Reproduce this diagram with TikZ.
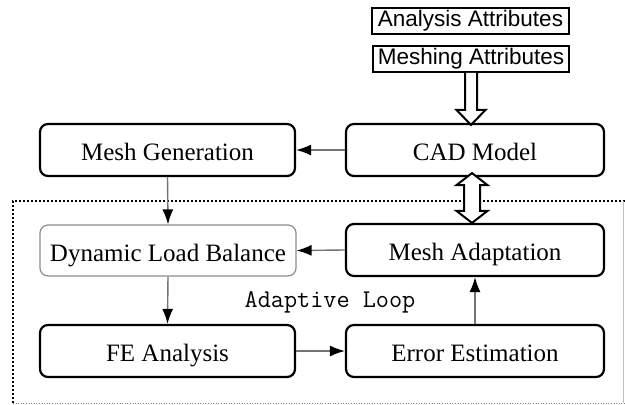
\documentclass[tikz,border=0pt]{standalone}
\usepackage{fontspec}
\setmainfont{Liberation Serif}
\newfontfamily\attrfont{Liberation Sans}
\usetikzlibrary{arrows.meta,calc}
\tikzset{
  box/.style={draw=black, line width=2.2pt, rounded corners=8pt, fill=white,
    minimum width=256pt, minimum height=52pt, inner sep=0pt,
    text height=21pt, text depth=0pt,
    font=\fontsize{25}{28}\selectfont},
  lightbox/.style={box, draw=black!45, line width=1.2pt},
  attr/.style={draw=black, line width=1.8pt, fill=white, inner sep=0pt,
    minimum height=26pt, font=\attrfont\fontsize{22.5}{25}\selectfont},
  conn/.style={draw=black!55, line width=1.4pt, -{Latex[black,length=15pt,width=11pt]}},
  hollow/.style={draw=black, line width=2pt, fill=white, line join=miter},
}
\begin{document}
\begin{tikzpicture}[x=1pt,y=-1pt]
\useasboundingbox (0,0) rectangle (625,405);
\fill[white] (0,0) rectangle (625,405);
% adaptive loop frame
\draw[line width=2pt, dotted, black] (625,201) -- (13,201) -- (13,403);
\draw[line width=0.6pt, dotted, black!50] (13,403) -- (625,403);
\draw[line width=0.6pt, black!25] (623.5,201) -- (623.5,403);

\node[box, minimum width=255pt] (mg) at (167.5,150) {Mesh Generation};
\node[box, minimum width=258pt] (cad) at (475,150) {CAD Model};
\node[lightbox, minimum height=51pt] (dlb) at (168,250.5) {Dynamic Load Balance};
\node[box, minimum width=258pt] (ma) at (475,250) {Mesh Adaptation};
\node[box, minimum width=255pt] (fe) at (167.5,351) {FE Analysis};
\node[box, minimum width=258pt] (ee) at (475,351) {Error Estimation};
\node[attr, minimum width=197pt] (aa) at (470.5,21) {Analysis Attributes};
\node[attr, minimum width=196pt] (mat) at (471,59) {Meshing Attributes};
\node[font=\ttfamily\fontsize{25.5}{28}\selectfont] (loop) at (330,302) {Adaptive Loop};

\draw[conn] (cad.west) -- (mg.east);
\draw[conn] (mg.south) -- (dlb.north);
\draw[conn] (ma.west) -- (dlb.east);
\draw[conn] (dlb.south) -- (fe.north);
\draw[conn] (fe.east) -- (ee.west);
\draw[conn] (ee.north) -- (ma.south);

% single hollow arrow: Meshing Attributes -> CAD Model
\coordinate (s1) at (mat.south);
\coordinate (t1) at (mat.south |- cad.north);
\draw[hollow] ($(s1)+(-6,0)$) -- ($(t1)+(-6,-13)$) -- ($(t1)+(-14.5,-13)$) -- ($(t1)+(0,2)$)
  -- ($(t1)+(14.5,-13)$) -- ($(t1)+(6,-13)$) -- ($(s1)+(6,0)$);

% double hollow arrow: CAD Model <-> Mesh Adaptation
\coordinate (s2) at ([xshift=-3pt]cad.south);
\coordinate (t2) at (s2 |- ma.north);
\draw[hollow] ($(s2)+(0,-4)$) -- ($(s2)+(15.5,8)$) -- ($(s2)+(8,8)$) -- ($(t2)+(8,-12)$)
  -- ($(t2)+(15.5,-12)$) -- ($(t2)+(0,0)$) -- ($(t2)+(-15.5,-12)$) -- ($(t2)+(-8,-12)$)
  -- ($(s2)+(-8,8)$) -- ($(s2)+(-15.5,8)$) -- cycle;
\end{tikzpicture}
\end{document}
